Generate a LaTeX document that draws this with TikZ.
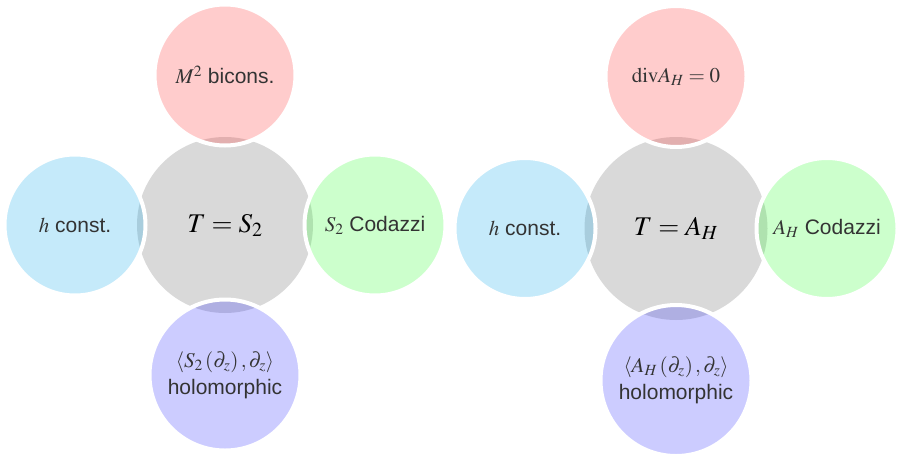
\documentclass[tikz,border=0pt]{standalone}
\usepackage{mathptmx}
\usepackage{fontspec}
\setsansfont{Liberation Sans}
\usepackage{tikz}
\usetikzlibrary{positioning}
\definecolor{colGray} {HTML}{D9D9D9}
\definecolor{colRed}  {HTML}{FF3333}
\definecolor{colCyan} {HTML}{17ABEB}
\definecolor{colGreen}{HTML}{33FF33}
\definecolor{colBlue} {HTML}{3333FF}
\definecolor{colText} {HTML}{333333}
\tikzset{
  hub/.style={
    circle, fill=colGray, inner sep=0pt,
    font=\fontsize{27}{30}\selectfont
  },
  bubble/.style={
    circle, draw=white, line width=4pt,
    fill opacity=0.25, text opacity=1, text=colText,
    align=center, inner sep=0pt, minimum size=141pt,
    font=\sffamily\fontsize{21}{24}\selectfont
  },
  redb/.style  ={bubble, fill=colRed},
  cyanb/.style ={bubble, fill=colCyan},
  greenb/.style={bubble, fill=colGreen},
  blueb/.style ={bubble, fill=colBlue, minimum size=151pt}
}

\begin{document}
\begin{tikzpicture}[x=1pt, y=1pt, node distance=150pt, on grid]
  \useasboundingbox (0,0) rectangle (897,-453);

  %% ── Left: T = S_2 ───────────────────────────────────────────
  \node[hub, minimum size=176pt] (hubS) at (225,-225) {$T=S_2$};
  \node[redb,   above=of hubS] (biconsS)  {$M^2$ bicons.};
  \node[cyanb,  left=of hubS]  (constS)   {$h$ const.};
  \node[greenb, right=of hubS] (codazziS) {$S_2$ Codazzi};
  \node[blueb,  below=of hubS] (holoS)
    {$\left\langle S_2\left(\partial_z\right),\partial_z\right\rangle$\\[3pt]holomorphic};

  %% ── Right: T = A_H ──────────────────────────────────────────
  \node[hub, minimum size=183pt] (hubA) at (676,-228.5) {$T=A_H$};
  \node[redb,   above=152pt of hubA] (divA)     {$\mathrm{div}A_H=0$};
  \node[cyanb,  left=151pt of hubA]  (constA)   {$h$ const.};
  \node[greenb, right=151pt of hubA] (codazziA) {$A_H$ Codazzi};
  \node[blueb,  below=152pt of hubA] (holoA)
    {$\left\langle A_H\left(\partial_z\right),\partial_z\right\rangle$\\[3pt]holomorphic};
\end{tikzpicture}
\end{document}
